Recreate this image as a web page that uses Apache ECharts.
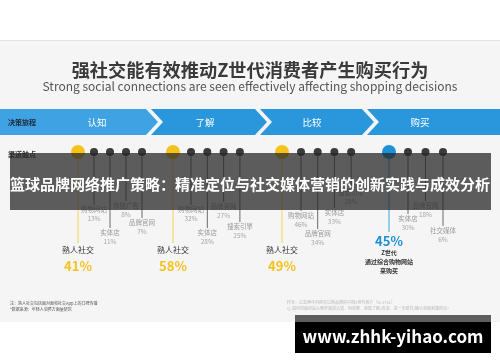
<!DOCTYPE html>
<html><head><meta charset="utf-8">
<script src="https://cdn.jsdelivr.net/npm/echarts@6/dist/echarts.min.js"></script>
<style>html,body{margin:0;padding:0;background:#fff}#c{width:500px;height:362px}</style>
</head><body><div id="c"></div>
<script>
// ---- data ----
const stages = ['认知', '了解', '比较', '购买'];
const leadChannels = ['熟人社交', '熟人社交', '熟人社交', '综合购物网站'];
const leadShares = [41, 58, 49, 45];
const channelNames = [
  ['购物网站', '实体店', '传统广告', '品牌官网'],
  ['购物网站', '实体店', '品牌官网', '搜索引擎'],
  ['购物网站', '品牌官网', '实体店', '搜索引擎'],
  ['实体店', '品牌官网', '社交媒体']
];
const channelShares = [
  [13, 11, 8, 7],
  [32, 28, 27, 25],
  [46, 34, 33, 28],
  [30, 18, 6]
];

// ---- layout ----
const FONT = '"Noto Sans CJK SC","Noto Sans",sans-serif';
const dotY = 152;
const leadX = [78, 173, 282, 389];
const firstX = [94, 191, 301, 408];
const stepX = [16, 16.3, 16.7, 17.5];
const labelY = [[210, 233, 206, 223], [210, 233, 207, 227], [216, 234, 213, 193], [219, 206, 231]];
const stageLabelX = [97, 205, 312, 420];
const segLeft = [0, 151, 260, 367];
const segRight = [146, 255, 362, 500];

const chDataset = [];
channelNames.forEach((arr, s) => arr.forEach((n, k) => chDataset.push([s, k, channelShares[s][k]])));
const leadDataset = leadShares.map((v, s) => [s, v]);

function chRender(params, api) {
  const s = api.value(0), k = api.value(1), v = api.value(2);
  const x = firstX[s] + k * stepX[s];
  const ly = labelY[s][k];
  const p0 = api.coord([x, dotY]);
  const p1 = api.coord([x, ly - 5]);
  const pn = api.coord([x, ly]);
  const pv = api.coord([x, ly + 9]);
  return {
    type: 'group', children: [
      { type: 'line', shape: { x1: p0[0], y1: p0[1], x2: p1[0], y2: p1[1] }, style: { stroke: '#6a6a6a', lineWidth: 1 } },
      { type: 'circle', shape: { cx: p0[0], cy: p0[1], r: 4 }, style: { fill: '#3b3b3b' } },
      { type: 'text', style: { text: channelNames[s][k], x: pn[0], y: pn[1], fill: '#9a9a9a', font: '6.5px ' + FONT, align: 'center', verticalAlign: 'middle' } },
      { type: 'text', style: { text: v + '%', x: pv[0], y: pv[1], fill: '#a8a8a8', font: '6.5px ' + FONT, align: 'center', verticalAlign: 'middle' } }
    ]
  };
}

function leadRender(params, api) {
  const s = api.value(0), v = api.value(1);
  const x = leadX[s];
  const isBuy = s === 3;
  const col = isBuy ? '#1d90d8' : '#f6c21c';
  const p0 = api.coord([x, dotY]);
  const children = [];
  if (!isBuy) {
    const p1 = api.coord([x, 243]);
    const pn = api.coord([x, 250]);
    const pv = api.coord([x, 266]);
    children.push(
      { type: 'line', shape: { x1: p0[0], y1: p0[1], x2: p1[0], y2: p1[1] }, style: { stroke: '#f7cf55', lineWidth: 1 } },
      { type: 'circle', shape: { cx: p0[0], cy: p0[1], r: 7 }, style: { fill: col } },
      { type: 'text', style: { text: leadChannels[s], x: pn[0], y: pn[1], fill: '#333', font: '8px ' + FONT, align: 'center', verticalAlign: 'middle' } },
      { type: 'text', style: { text: v + '%', x: pv[0], y: pv[1], fill: col, font: 'bold 13px ' + FONT, align: 'center', verticalAlign: 'middle' } }
    );
  } else {
    const p1 = api.coord([x, 232]);
    const pv = api.coord([x, 241]);
    const pa = api.coord([x, 253]);
    const pb = api.coord([x, 262]);
    const pc = api.coord([x, 271]);
    children.push(
      { type: 'line', shape: { x1: p0[0], y1: p0[1], x2: p1[0], y2: p1[1] }, style: { stroke: '#3a9fdf', lineWidth: 1 } },
      { type: 'circle', shape: { cx: p0[0], cy: p0[1], r: 7 }, style: { fill: col } },
      { type: 'text', style: { text: v + '%', x: pv[0], y: pv[1], fill: col, font: 'bold 13px ' + FONT, align: 'center', verticalAlign: 'middle' } },
      { type: 'text', style: { text: 'Z世代', x: pa[0], y: pa[1], fill: '#333', font: 'bold 6px ' + FONT, align: 'center', verticalAlign: 'middle' } },
      { type: 'text', style: { text: '通过' + leadChannels[s], x: pb[0], y: pb[1], fill: '#333', font: 'bold 6px ' + FONT, align: 'center', verticalAlign: 'middle' } },
      { type: 'text', style: { text: '来购买', x: pc[0], y: pc[1], fill: '#333', font: 'bold 6px ' + FONT, align: 'center', verticalAlign: 'middle' } }
    );
  }
  return { type: 'group', children };
}

function txt(text, x, y, font, fill, align, z) {
  return { type: 'text', z: z || 1, style: { text, x, y, font, fill, align: align || 'center', verticalAlign: 'middle', textAlign: align || 'center', textVerticalAlign: 'middle' } };
}

const graphics = [
  { type: 'rect', z: 0, shape: { x: 0, y: 40, width: 500, height: 282 }, style: { fill: '#f5f5f6' } },
  { type: 'line', z: 0, shape: { x1: 0, y1: 40.5, x2: 500, y2: 40.5 }, style: { stroke: '#e2e2e4', lineWidth: 1 } },
  txt('强社交能有效推动Z世代消费者产生购买行为', 250, 70, 'bold 18.2px ' + FONT, '#3a3a3a'),
  txt('Strong social connections are seen effectively affecting shopping decisions', 250, 86, '12px ' + FONT, '#555'),
  txt('渠道触点', 8, 154, 'bold 7px ' + FONT, '#333', 'left'),
  txt('注：熟人社交包括面对面和社交App上的口碑传播', 10, 303, '4px ' + FONT, '#555', 'left'),
  txt('*数据来源：年轻人消费方面量研究', 10, 309, '4px ' + FONT, '#555', 'left'),
  txt('样本：过去两年内购买过商品牌的中国Z世代用户（n=1751）', 287, 302, '4px ' + FONT, '#b8b8b8', 'left'),
  txt('Q. 请问您最初是从哪些渠道认知、得到哪、获取了解/咨询、进一步研究/确认和被刺激购买?', 287, 308, '4px ' + FONT, '#b8b8b8', 'left')
];
stages.forEach((st, i) => {
  const L = segLeft[i], R = segRight[i], t = 109, b = 135, m = 122, tip = 12;
  const pts = [[L, t], [R, t]];
  if (i < stages.length - 1) pts.push([R + tip, m]);
  pts.push([R, b], [L, b]);
  if (i > 0) pts.push([L + tip, m]);
  graphics.push({ type: 'polygon', z: 1, shape: { points: pts }, style: { fill: i === 0 ? '#3ea2e3' : '#2a97dd' } });
  graphics.push(txt(st, stageLabelX[i], 122, '9.5px ' + FONT, '#fff', 'center', 2));
});
graphics.push(txt('决策旅程', 8, 122, 'bold 7px ' + FONT, '#1d2a3a', 'left', 2));
// overlay banner
graphics.push({ type: 'rect', z: 50, shape: { x: 10, y: 153, width: 481, height: 57 }, style: { fill: 'rgba(40,40,40,0.75)' } });
graphics.push(txt('篮球品牌网络推广策略：精准定位与社交媒体营销的创新实践与成效分析', 250, 184, 'bold 15px ' + FONT, '#fff', 'center', 51));
// watermark
graphics.push({ type: 'rect', z: 50, shape: { x: 295, y: 315, width: 196, height: 7 }, style: { fill: '#5e5e5e' } });
graphics.push({ type: 'rect', z: 50, shape: { x: 295, y: 322, width: 196, height: 31 }, style: { fill: '#000' } });
graphics.push(txt('www.zhhk-yihao.com', 393, 337, 'bold 17px ' + FONT, '#fff', 'center', 51));

const chart = echarts.init(document.getElementById('c'), null, { renderer: 'canvas' });
chart.setOption({
  animation: false,
  backgroundColor: '#fff',
  grid: { left: 0, right: 0, top: 0, bottom: 0 },
  xAxis: { type: 'value', min: 0, max: 500, show: false },
  yAxis: { type: 'value', min: 0, max: 362, inverse: true, show: false },
  graphic: { elements: graphics },
  series: [
    { type: 'custom', z: 10, renderItem: chRender, data: chDataset, clip: false },
    { type: 'custom', z: 11, renderItem: leadRender, data: leadDataset, clip: false }
  ]
});
</script></body></html>
